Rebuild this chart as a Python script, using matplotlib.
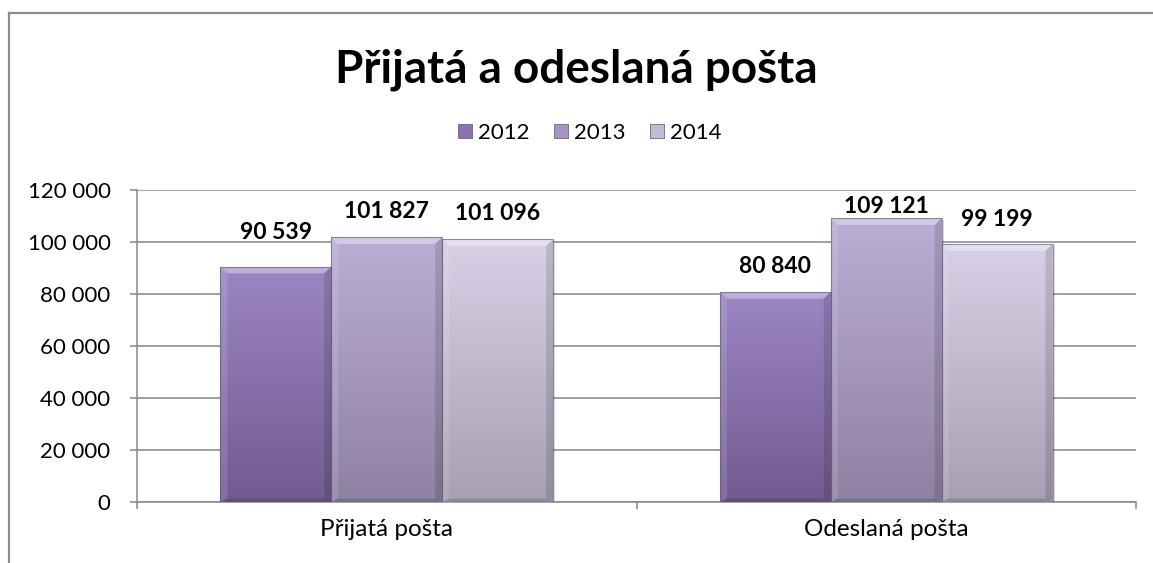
import numpy as np
import matplotlib
matplotlib.use("Agg")
import matplotlib.pyplot as plt
from matplotlib.colors import LinearSegmentedColormap
from matplotlib.patches import Rectangle, Polygon, Patch
from matplotlib.lines import Line2D

# ---- data ----
categories = ["Přijatá pošta", "Odeslaná pošta"]
years = ["2012", "2013", "2014"]
values_2012 = [90539, 80840]
values_2013 = [101827, 109121]
values_2014 = [101096, 99199]
value_labels_2012 = ["90 539", "80 840"]
value_labels_2013 = ["101 827", "109 121"]
value_labels_2014 = ["101 096", "99 199"]
y_ticks = [0, 20000, 40000, 60000, 80000, 100000, 120000]
y_tick_labels = ["0", "20 000", "40 000", "60 000", "80 000", "100 000", "120 000"]
title = "Přijatá a odeslaná pošta"

series = [values_2012, values_2013, values_2014]
series_labels = [value_labels_2012, value_labels_2013, value_labels_2014]

# ---- style ----
plt.rcParams['font.family'] = ['Lato', 'DejaVu Sans']
top_colors = ["#9c86c4", "#bbaed4", "#d8d0e6"]
bot_colors = ["#725b8f", "#8e81a2", "#a79fb3"]
legend_colors = ["#8a72b0", "#a596bf", "#c3b9d3"]
label_offsets_pt = [[17, 11], [11, 1], [11, 10]]  # per series, per category (points above bar)
grid_color = "#868686"

fig = plt.figure(figsize=(11.53, 5.63), dpi=100)
ax = fig.add_axes([137/1153, 1-502/563, (1136-137)/1153, (502-190)/563])

w = 0.222
bev_x = 0.014
bev_y = 2600

for i, vals in enumerate(series):
    cmap = LinearSegmentedColormap.from_list(f"c{i}", [bot_colors[i], top_colors[i]])
    for j, v in enumerate(vals):
        x0 = j + (i - 1) * w - w / 2
        x1 = x0 + w
        # shadow
        ax.add_patch(Rectangle((x0 + 0.004, -800), w, v, facecolor="#000000", alpha=0.12,
                               edgecolor="none", zorder=2))
        grad = np.linspace(0, 1, 256).reshape(-1, 1)
        im = ax.imshow(grad, extent=[x0, x1, 0, v], origin="lower", aspect="auto",
                       cmap=cmap, zorder=3, interpolation="bilinear")
        rect = Rectangle((x0, 0), w, v, facecolor="none", edgecolor="none")
        ax.add_patch(rect)
        im.set_clip_path(rect)
        # bevels
        ax.add_patch(Polygon([[x0, v], [x1, v], [x1 - bev_x, v - bev_y], [x0 + bev_x, v - bev_y]],
                             closed=True, facecolor="white", alpha=0.35, edgecolor="none", zorder=4))
        ax.add_patch(Polygon([[x0, 0], [x0, v], [x0 + bev_x, v - bev_y], [x0 + bev_x, bev_y * 0.5]],
                             closed=True, facecolor="white", alpha=0.12, edgecolor="none", zorder=4))
        ax.add_patch(Polygon([[x1, 0], [x1, v], [x1 - bev_x, v - bev_y], [x1 - bev_x, bev_y * 0.5]],
                             closed=True, facecolor="black", alpha=0.12, edgecolor="none", zorder=4))
        ax.add_patch(Polygon([[x0, 0], [x1, 0], [x1 - bev_x, bev_y * 0.5], [x0 + bev_x, bev_y * 0.5]],
                             closed=True, facecolor="black", alpha=0.15, edgecolor="none", zorder=4))
        ax.add_patch(Rectangle((x0, 0), w, v, facecolor="none", edgecolor="#5e5470",
                               linewidth=0.8, alpha=0.6, zorder=5))
        ax.annotate(series_labels[i][j], xy=(x0 + w / 2, v), xytext=(0, label_offsets_pt[i][j]),
                    textcoords="offset points", ha="center", va="bottom",
                    fontsize=16.5, fontweight="bold", color="black", zorder=6)

ax.set_xlim(-0.5, 1.5)
ax.set_ylim(0, 120000)
ax.set_yticks(y_ticks)
ax.set_yticklabels(y_tick_labels, fontsize=16)
ax.set_xticks([0, 1])
ax.set_xticklabels(categories, fontsize=17.5)
ax.set_xticks([-0.5, 0.5, 1.5], minor=True)
ax.tick_params(axis="x", which="major", length=0, pad=12)
ax.tick_params(axis="x", which="minor", length=5, color=grid_color, width=1.1)
ax.tick_params(axis="y", length=5, color=grid_color, width=1.1, pad=14)
ax.yaxis.grid(True, color=grid_color, linewidth=1.1, zorder=0)
ax.set_axisbelow(True)
for s in ["top", "right"]:
    ax.spines[s].set_visible(False)
for s in ["left", "bottom"]:
    ax.spines[s].set_color(grid_color)
    ax.spines[s].set_linewidth(1.1)

fig.text(0.5, 1 - 70/563, title, ha="center", va="center", fontsize=33, fontweight="bold")

handles = [Patch(facecolor=legend_colors[k], edgecolor="#6e6480", linewidth=0.6) for k in range(3)]
fig.legend(handles, years, loc="center", bbox_to_anchor=(590/1153, 1 - 133/563), ncol=3,
           frameon=False, fontsize=16, handlelength=0.6, handleheight=0.6,
           handletextpad=0.3, columnspacing=1.1)

# chart border (left and top visible)
fig.add_artist(Line2D([9/1153, 9/1153], [0, 1 - 13/563], transform=fig.transFigure,
                      color="#8c8c8c", linewidth=1.6))
fig.add_artist(Line2D([9/1153, 1], [1 - 13/563, 1 - 13/563], transform=fig.transFigure,
                      color="#8c8c8c", linewidth=1.6))

fig.savefig("out.png", dpi=100)
